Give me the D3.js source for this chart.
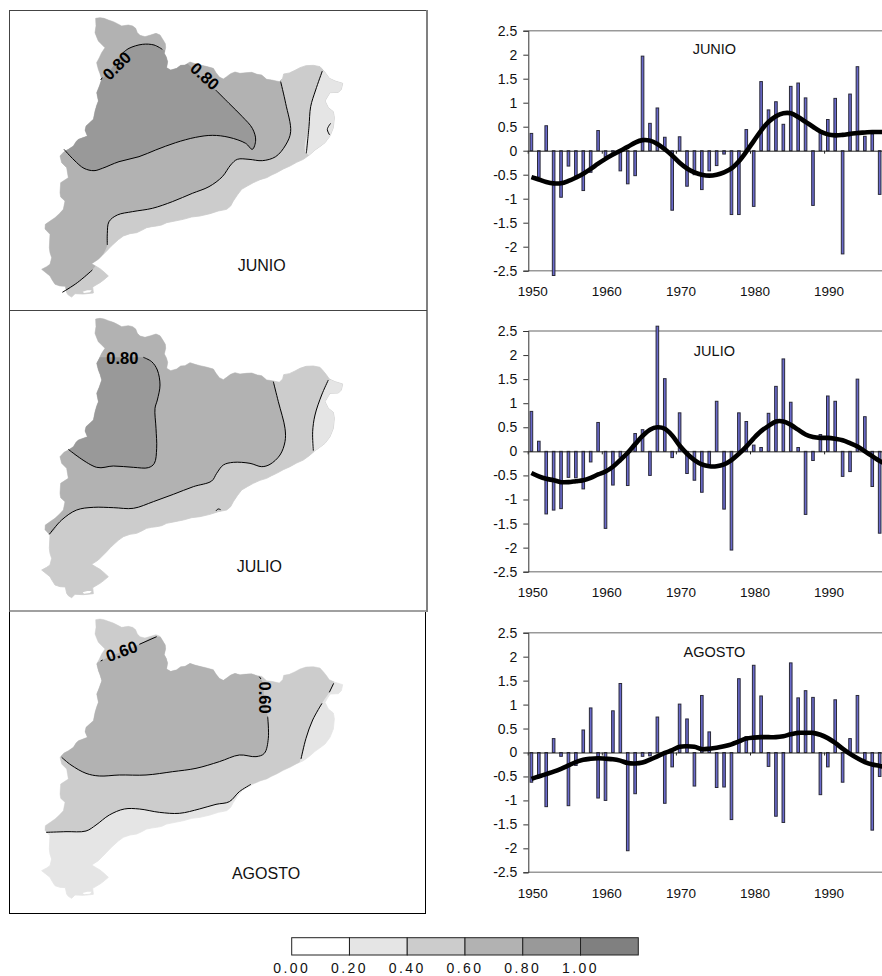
<!DOCTYPE html>
<html>
<head>
<meta charset="utf-8">
<script src="https://cdn.jsdelivr.net/npm/d3@7"></script>
<style>
  body { margin: 0; background: #fff; }
  svg { display: block; }
  text { font-family: "Liberation Sans", Arial, sans-serif; fill: #111; }
</style>
</head>
<body>
<script>
let w = 882;
let h = 976;

// year series, 1950-1997 (bars) and smoothed curve 1950-1998
let firstYear = 1950;
let junioBars = [.36,-.55,.52,-2.6,-.97,-.32,-.55,-.83,-.45,.42,-.12,-.03,-.42,-.69,-.52,1.97,.57,.89,.28,-1.24,.29,-.74,-.5,-.81,-.42,-.31,-.07,-1.33,-1.33,.44,-1.16,1.44,.85,1.02,.55,1.34,1.41,1.1,-1.14,.4,.65,1.09,-2.15,1.18,1.75,.3,.35,-.91];
let julioBars = [.83,.21,-1.3,-1.22,-1.19,-.54,-.55,-.78,-.22,.6,-1.6,-.7,-.12,-.71,.37,.45,-.5,2.6,1.51,-.13,.8,-.46,-.6,-.85,-.3,1.04,-1.2,-2.05,.8,.62,.13,.08,.79,1.35,1.92,1.02,.08,-1.31,-.19,.35,1.15,1.04,-.52,-.42,1.5,.72,-.73,-1.7];
let agostoBars = [-.62,-.5,-1.13,.29,-.08,-1.11,-.27,.47,.93,-.95,-1,.87,1.44,-2.05,-.86,-.08,-.07,.74,-1.06,-.3,1.01,.7,-.7,1.19,.43,-.73,-.72,-1.4,1.54,.33,1.82,1.18,-.29,-1.33,-1.46,1.87,1.14,1.29,1.15,-.88,-.3,1.1,-.62,.29,1.19,-.15,-1.62,-.5];
let junioCurve = [-.55,-.6,-.65,-.68,-.68,-.63,-.56,-.48,-.38,-.27,-.17,-.08,0,.08,.17,.22,.21,.14,.03,-.1,-.25,-.37,-.45,-.5,-.52,-.5,-.45,-.37,-.22,-.02,.2,.42,.6,.72,.78,.78,.7,.6,.5,.4,.34,.32,.33,.35,.37,.38,.39,.39,.39];
let julioCurve = [-.45,-.52,-.57,-.6,-.64,-.64,-.62,-.6,-.55,-.48,-.42,-.32,-.18,-.03,.15,.32,.45,.5,.47,.33,.12,-.05,-.18,-.27,-.31,-.31,-.27,-.18,-.05,.1,.27,.42,.53,.62,.62,.55,.45,.35,.3,.28,.28,.26,.23,.17,.1,0,-.1,-.2,-.28];
let agostoCurve = [-.55,-.5,-.45,-.4,-.34,-.27,-.2,-.15,-.13,-.12,-.13,-.14,-.17,-.22,-.23,-.21,-.15,-.08,-.01,.05,.12,.13,.12,.07,.08,.1,.13,.17,.23,.29,.31,.32,.32,.32,.34,.38,.41,.41,.41,.37,.3,.2,.08,-.03,-.12,-.2,-.25,-.28,-.32];
let yTicks = [2.5,2,1.5,1,.5,0,-.5,-1,-1.5,-2,-2.5];
let xTicks = [1950,1960,1970,1980,1990];

// legend
let legendBreaks = [0,.2,.4,.6,.8,1,1.2];
let legendColors = ["#ffffff","#e5e5e5","#cccccc","#b2b2b2","#999999","#808080"];

// region outline, map units (same for the three maps)
let outline = [[287,42],[300,40],[312,42],[325,47],[340,52],[352,58],[365,65],[385,62],[398,65],[407,72],[412,85],[420,93],[435,97],[452,92],[468,87],[480,92],[487,103],[496,118],[497,130],[493,147],[499,158],[503,172],[500,190],[512,197],[530,192],[542,183],[555,182],[570,173],[585,178],[600,182],[618,186],[640,192],[648,205],[658,218],[670,224],[680,217],[692,208],[705,203],[720,207],[738,205],[755,204],[772,210],[785,212],[800,225],[815,227],[838,232],[848,222],[851,209],[868,206],[885,198],[900,190],[918,184],[940,183],[960,187],[970,198],[978,208],[988,222],[1005,230],[1028,237],[1024,255],[1015,264],[990,265],[982,278],[975,290],[985,310],[1000,322],[1003,340],[1000,370],[990,395],[975,415],[958,428],[945,437],[928,452],[910,465],[890,474],[870,485],[850,494],[830,505],[815,512],[800,520],[780,526],[760,535],[742,545],[725,555],[712,572],[700,590],[692,605],[680,615],[655,620],[630,628],[600,635],[575,638],[550,645],[525,650],[500,655],[485,662],[470,665],[455,667],[440,670],[425,678],[410,685],[390,688],[370,695],[355,706],[345,715],[332,727],[320,740],[307,753],[295,765],[275,778],[288,786],[300,793],[312,803],[325,815],[312,826],[300,835],[278,848],[280,866],[250,869],[225,868],[215,878],[205,872],[200,865],[196,846],[180,845],[165,840],[156,826],[150,815],[125,795],[140,787],[150,780],[155,760],[150,745],[148,730],[150,690],[135,674],[136,660],[165,640],[178,628],[190,615],[195,590],[182,578],[180,565],[182,535],[205,520],[200,490],[185,475],[180,455],[192,442],[205,435],[220,425],[228,412],[235,405],[262,395],[255,378],[258,365],[280,345],[285,320],[290,303],[295,290],[290,265],[298,245],[305,225],[300,208],[295,195],[290,175],[298,160],[305,145],[315,130],[303,118],[295,110],[290,98],[285,85],[288,65]];
let deltaHole = [[248,862],[262,858],[275,858],[270,864],[252,866]];

// JUNIO contours
let junioDark = [[192,435],[100,300],[302,227],[367,147],[387,132],[427,120],[462,122],[487,135],[559,175],[587,202],[647,257],[687,297],[727,337],[757,372],[767,407],[757,435],[737,417],[687,399],[637,393],[587,399],[527,415],[467,437],[417,457],[357,472],[307,492],[282,499],[252,492],[222,467]];
let junioMid = [[842,232],[842,90],[60,90],[40,890],[187,864],[232,835],[277,797],[322,722],[322,687],[327,652],[352,632],[397,622],[457,612],[517,592],[577,567],[627,547],[667,517],[692,482],[712,465],[747,465],[787,469],[827,457],[857,422],[872,382],[857,297]];
let junioLight = [[967,200],[947,257],[932,307],[927,367],[919,447],[1100,447],[1100,200]];
let junioLines = [
  [[302,227],[307,220]],
  [[367,147],[387,132],[427,120],[462,122],[487,135]],
  [[647,257],[687,297],[727,337],[757,372],[767,407],[757,435],[737,417],[687,399],[637,393],[587,399],[527,415],[467,437],[417,457],[357,472],[307,492],[282,499],[252,492],[222,467],[192,435]],
  [[842,232],[857,297],[872,382],[857,422],[827,457],[787,469],[747,465],[712,465],[692,482],[667,517],[627,547],[577,567],[517,592],[457,612],[397,622],[352,632],[327,652],[322,687],[322,722]],
  [[967,200],[947,257],[932,307],[927,367],[919,447]],
  [[187,864],[232,835],[277,797]],
  [[992,357],[982,375],[989,392]]
];

// JULIO contours
let julioDark = [[430,157],[455,170],[472,195],[480,240],[472,285],[465,310],[468,370],[470,430],[463,475],[445,488],[400,487],[340,483],[290,487],[205,433],[100,300],[250,157]];
let julioMid = [[820,230],[835,290],[855,370],[855,410],[840,450],[810,478],[785,485],[750,475],[700,472],[670,480],[650,505],[635,528],[580,545],[520,568],[460,590],[400,610],[340,608],[280,607],[230,615],[185,645],[148,688],[50,688],[50,90],[820,90]];
let julioLight = [[985,225],[965,270],[945,330],[938,380],[940,437],[1100,437],[1100,225]];
let julioLines = [
  [[430,157],[455,170],[472,195],[480,240],[472,285],[465,310],[468,370],[470,430],[463,475],[445,488],[400,487],[340,483],[290,487],[205,433]],
  [[820,230],[835,290],[855,370],[855,410],[840,450],[810,478],[785,485],[750,475],[700,472],[670,480],[650,505],[635,528],[580,545],[520,568],[460,590],[400,610],[340,608],[280,607],[230,615],[185,645],[148,688]],
  [[985,225],[965,270],[945,330],[938,380],[940,437]],
  [[648,618],[654,612],[662,614]]
];

// AGOSTO contours
let agostoDark = [[185,455],[100,300],[250,190],[308,163],[418,116],[470,93],[778,213],[793,278],[803,333],[805,398],[793,443],[768,453],[718,448],[658,468],[588,488],[518,498],[438,508],[358,508],[298,511],[258,503],[213,478]];
let agostoMid = [[138,680],[198,678],[258,676],[288,658],[328,628],[373,610],[418,610],[478,620],[538,623],[598,610],[648,596],[688,588],[718,558],[753,536],[850,530],[903,460],[918,398],[938,343],[966,293],[988,260],[1001,233],[1060,90],[50,90],[50,680]];
let agostoLines = [
  [[470,93],[418,116]],
  [[308,163],[302,166]],
  [[803,333],[805,398],[793,443],[768,453],[718,448],[658,468],[588,488],[518,498],[438,508],[358,508],[298,511],[258,503],[213,478],[185,455]],
  [[138,680],[198,678],[258,676],[288,658],[328,628],[373,610],[418,610],[478,620],[538,623],[598,610],[648,596],[688,588],[718,558],[753,536]],
  [[903,460],[918,398],[938,343],[966,293]],
  [[988,260],[1001,233]],
  [[778,213],[783,220]]
];

let svg = d3.select("body")
  .append("svg")
  .attr("width", w)
  .attr("height", h);

let defs = svg.append("defs");
let mapX = d3.scaleLinear().domain([0, 1080]).range([0, 360]);

// --- frames ---
function frameLine(x1, y1, x2, y2, color, width) {
  svg.append("line")
    .attr("x1", x1).attr("y1", y1).attr("x2", x2).attr("y2", y2)
    .attr("stroke", color).attr("stroke-width", width);
}
frameLine(9.5, 10.5, 427, 10.5, "#444", 1);
frameLine(9.5, 10, 9.5, 612, "#444", 1);
frameLine(427, 10, 427, 612, "#808080", 2);
frameLine(9.5, 310.5, 427, 310.5, "#444", 1);
frameLine(9.5, 611, 428, 611, "#808080", 1.5);
frameLine(9.5, 612, 9.5, 914, "#000", 1);
frameLine(425.5, 612, 425.5, 914, "#000", 1);
frameLine(9.5, 913.5, 425.5, 913.5, "#000", 1);

// --- maps ---
function drawMap(name, top, base, bands, lines, title, titleX, titleY, labels) {
  let mapY = d3.scaleLinear().domain([0, 930]).range([top, top + 310]);
  let smooth = d3.line().x(d => mapX(d[0])).y(d => mapY(d[1])).curve(d3.curveCatmullRom.alpha(0.5));
  let straight = d3.line().x(d => mapX(d[0])).y(d => mapY(d[1]));

  defs.append("clipPath")
    .attr("id", "clip-" + name)
    .append("path")
    .attr("d", straight(outline) + "Z");

  let g = svg.append("g");
  g.append("path")
    .attr("d", straight(outline) + "Z")
    .attr("fill", base)
    .attr("stroke", base)
    .attr("stroke-width", 0.8);

  let clipped = g.append("g").attr("clip-path", "url(#clip-" + name + ")");
  clipped.selectAll("path.band")
    .data(bands)
    .enter()
    .append("path")
    .attr("class", "band")
    .attr("d", d => smooth(d.points) + "Z")
    .attr("fill", d => d.color);

  g.selectAll("path.contour")
    .data(lines)
    .enter()
    .append("path")
    .attr("class", "contour")
    .attr("d", d => smooth(d))
    .attr("fill", "none")
    .attr("stroke", "#000")
    .attr("stroke-width", 1);

  g.append("path")
    .attr("d", straight(deltaHole) + "Z")
    .attr("fill", "#fff");

  g.selectAll("text.isoLabel")
    .data(labels)
    .enter()
    .append("text")
    .attr("class", "isoLabel")
    .attr("text-anchor", "middle")
    .attr("dominant-baseline", "central")
    .attr("transform", d => "translate(" + mapX(d.x) + "," + mapY(d.y) + ") rotate(" + d.angle + ")")
    .style("font-size", "16.5px")
    .style("font-weight", "bold")
    .style("fill", "#000")
    .text(d => d.text);

  svg.append("text")
    .attr("x", titleX)
    .attr("y", titleY)
    .attr("text-anchor", "middle")
    .attr("dominant-baseline", "central")
    .style("font-size", "16px")
    .text(title);
}

drawMap("junio", 4.33, "#cccccc",
  [{points: junioMid, color: "#b2b2b2"}, {points: junioDark, color: "#999999"}, {points: junioLight, color: "#e5e5e5"}],
  junioLines, "JUNIO", 261.7, 265.7,
  [{text: "0.80", x: 350, y: 184, angle: -45}, {text: "0.80", x: 615, y: 215, angle: 42}]);

drawMap("julio", 305, "#cccccc",
  [{points: julioMid, color: "#b2b2b2"}, {points: julioDark, color: "#999999"}, {points: julioLight, color: "#e5e5e5"}],
  julioLines, "JULIO", 259.3, 566.7,
  [{text: "0.80", x: 367, y: 158, angle: 0}]);

drawMap("agosto", 605.67, "#e5e5e5",
  [{points: agostoMid, color: "#cccccc"}, {points: agostoDark, color: "#b2b2b2"}],
  agostoLines, "AGOSTO", 266, 873.3,
  [{text: "0.60", x: 365, y: 136, angle: -20}, {text: "0.60", x: 795, y: 276, angle: 90}]);

// --- bar charts ---
let xScale = d3.scaleLinear()
  .domain([1950, 1998])
  .range([531.4, 531.4 + 48 * 7.41]);
let barWidth = 2.6;

function drawChart(top, bottom, bars, curve, title, titleY) {
  let yScale = d3.scaleLinear()
    .domain([-2.5, 2.5])
    .range([bottom, top]);
  let g = svg.append("g");

  // top and bottom rules
  g.selectAll("line.rule")
    .data([-2.5, 2.5])
    .enter()
    .append("line")
    .attr("class", "rule")
    .attr("x1", 528.3)
    .attr("x2", w)
    .attr("y1", d => yScale(d))
    .attr("y2", d => yScale(d))
    .attr("stroke", "#999")
    .attr("stroke-width", 1.5);

  g.selectAll("rect")
    .data(bars)
    .enter()
    .append("rect")
    .attr("x", (d, i) => xScale(firstYear + i) - barWidth / 2)
    .attr("y", d => yScale(Math.max(0, d)))
    .attr("width", barWidth)
    .attr("height", d => Math.abs(yScale(d) - yScale(0)))
    .attr("fill", "#6a6acc")
    .attr("stroke", "#2a2a3a")
    .attr("stroke-width", 1);

  // zero line with decade ticks on the band edges
  let zeroAxis = d3.axisBottom(xScale)
    .tickValues(xTicks)
    .tickSizeInner(3)
    .tickSizeOuter(0)
    .tickFormat("");
  g.append("g")
    .attr("transform", "translate(-3.7," + yScale(0) + ")")
    .call(zeroAxis)
    .call(a => a.selectAll("path,line").attr("stroke", "#222"));

  let line = d3.line()
    .x((d, i) => xScale(firstYear + i))
    .y(d => yScale(d))
    .curve(d3.curveCatmullRom);
  g.append("path")
    .datum(curve)
    .attr("d", line)
    .attr("fill", "none")
    .attr("stroke", "#000")
    .attr("stroke-width", 4.6);

  let yAxis = d3.axisLeft(yScale)
    .tickValues(yTicks)
    .tickSize(5)
    .tickPadding(6)
    .tickFormat(d => String(d));
  let yG = g.append("g")
    .attr("transform", "translate(528.3,0)")
    .call(yAxis);
  yG.selectAll("path,line").attr("stroke", "#333").attr("stroke-width", 1);
  yG.selectAll("text").style("font-size", "14px").style("font-family", "'Liberation Sans', Arial, sans-serif").style("fill", "#111");

  let xAxis = d3.axisBottom(xScale)
    .tickValues(xTicks)
    .tickSize(0)
    .tickPadding(16)
    .tickFormat(d => String(d));
  let xG = g.append("g")
    .attr("transform", "translate(0.8," + bottom + ")")
    .call(xAxis);
  xG.select(".domain").remove();
  xG.selectAll("text").style("font-size", "13.5px").style("font-family", "'Liberation Sans', Arial, sans-serif").style("fill", "#111");

  svg.append("text")
    .attr("x", 714.4)
    .attr("y", titleY)
    .attr("text-anchor", "middle")
    .attr("dominant-baseline", "central")
    .style("font-size", "14.5px")
    .text(title);
}

drawChart(30.7, 270.7, junioBars, junioCurve, "JUNIO", 49);
drawChart(331, 571.7, julioBars, julioCurve, "JULIO", 350.7);
drawChart(632.7, 872.3, agostoBars, agostoCurve, "AGOSTO", 651.7);

// --- legend ---
let legendX = d3.scaleLinear()
  .domain([0, 1.2])
  .range([291.7, 638.3]);

svg.selectAll("rect.legend")
  .data(legendColors)
  .enter()
  .append("rect")
  .attr("class", "legend")
  .attr("x", (d, i) => legendX(legendBreaks[i]))
  .attr("y", 937.7)
  .attr("width", (d, i) => legendX(legendBreaks[i + 1]) - legendX(legendBreaks[i]))
  .attr("height", 17.3)
  .attr("fill", d => d)
  .attr("stroke", "#222")
  .attr("stroke-width", 1);

svg.selectAll("text.legendLabel")
  .data(legendBreaks.slice(0, 6))
  .enter()
  .append("text")
  .attr("class", "legendLabel")
  .attr("x", d => legendX(d))
  .attr("y", 973.3)
  .attr("text-anchor", "middle")
  .style("font-size", "14px")
  .style("letter-spacing", "2.4px")
  .text(d => d3.format(".2f")(d));
</script>
</body>
</html>
